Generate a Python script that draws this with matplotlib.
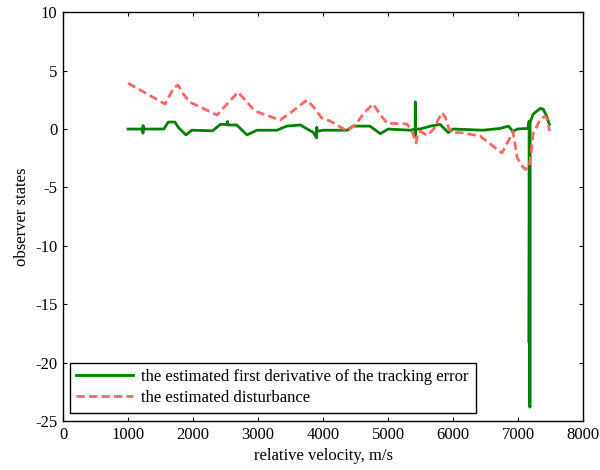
import matplotlib
matplotlib.use("Agg")
import matplotlib.pyplot as plt

# estimated first derivative of the tracking error (green)
green_x = [1000, 1200, 1228, 1230, 1232, 1234, 1550, 1620, 1720, 1780, 1890, 1980, 2300, 2420,
           2528, 2530, 2533, 2670, 2830, 2980, 3290, 3440, 3650, 3850, 3900, 3903, 3906, 4000,
           4370, 4460, 4720, 4880, 5000, 5340, 5415, 5418, 5421, 5425, 5490, 5650, 5800, 5925,
           6000, 6460, 6720, 6850, 6920, 6985, 7140, 7160, 7168, 7168, 7176, 7180, 7184, 7230,
           7340, 7385, 7440, 7480]
green_y = [0.0, 0.0, 0.0, -0.35, 0.3, 0.0, 0.0, 0.6, 0.6, 0.1, -0.5, -0.1, -0.15, 0.4,
           0.4, 0.65, 0.35, 0.35, -0.5, -0.1, -0.1, 0.25, 0.35, -0.3, -0.75, 0.15, -0.2, -0.1,
           -0.1, 0.25, 0.25, -0.4, 0.0, -0.1, 0.0, 2.33, -0.6, 0.0, 0.0, 0.25, 0.4, -0.3,
           0.0, -0.1, 0.05, 0.25, -0.2, 0.0, 0.05, 0.25, 0.68, -18.3, 0.5, -23.8, 0.6, 1.28,
           1.77, 1.7, 1.1, 0.4]

# estimated disturbance (red dashed)
red_x = [1000, 1570, 1700, 1770, 1850, 1950, 2370, 2500, 2690, 2800, 2950, 3340, 3500, 3750,
         3850, 3980, 4110, 4370, 4500, 4650, 4770, 4870, 4985, 5290, 5370, 5430, 5460, 5500,
         5600, 5700, 5775, 5830, 5880, 5930, 5985, 6110, 6415, 6600, 6750, 6850, 6920, 6985,
         7050, 7110, 7170, 7200, 7230, 7340, 7415, 7460, 7480]
red_y = [3.93, 2.14, 3.5, 3.76, 3.0, 2.3, 1.2, 2.0, 3.16, 2.5, 1.54, 0.77, 1.4, 2.48,
         1.9, 0.94, 0.68, -0.17, 0.4, 1.5, 2.14, 1.3, 0.5, 0.43, -0.2, -1.2, -0.3, -0.2,
         -0.55, 0.0, 0.85, 1.4, 1.0, 0.1, -0.3, -0.3, -0.6, -1.4, -2.05, -1.0, -0.2, -2.45,
         -3.1, -3.45, -3.3, -2.0, -0.43, 0.85, 1.1, 0.7, -0.17]

x_ticks = [0, 1000, 2000, 3000, 4000, 5000, 6000, 7000, 8000]
y_ticks = [10, 5, 0, -5, -10, -15, -20, -25]

plt.rcParams['font.family'] = ['Liberation Serif', 'DejaVu Serif']
plt.rcParams['axes.unicode_minus'] = False
fs = 12

fig = plt.figure(figsize=(6.0, 4.7), dpi=100)
ax = fig.add_axes([0.105, 0.104, 0.867, 0.870])

ax.plot(green_x, green_y, color='#008000', lw=2.0,
        label='the estimated first derivative of the tracking error')
ax.plot(red_x, red_y, color='#FF6666', lw=2.0, dashes=(3, 1.5),
        label='the estimated disturbance')

ax.set_xlim(0, 8000)
ax.set_ylim(-25, 10)
ax.set_xticks(x_ticks)
ax.set_yticks(y_ticks)
ax.tick_params(direction='in', top=True, right=True, labelsize=fs, length=3, width=0.8, pad=4)
for s in ax.spines.values():
    s.set_linewidth(1.0)
ax.set_xlabel('relative velocity, m/s', fontsize=fs, labelpad=4)
ax.set_ylabel('observer states', fontsize=fs)

leg = ax.legend(loc='lower left', bbox_to_anchor=(0.013, 0.02), borderaxespad=0,
                fontsize=fs, fancybox=False, edgecolor='black', framealpha=1,
                handlelength=3.4, handletextpad=0.5, borderpad=0.4, labelspacing=0.3)
leg.get_frame().set_linewidth(1.0)

fig.savefig('out.png', dpi=100)
